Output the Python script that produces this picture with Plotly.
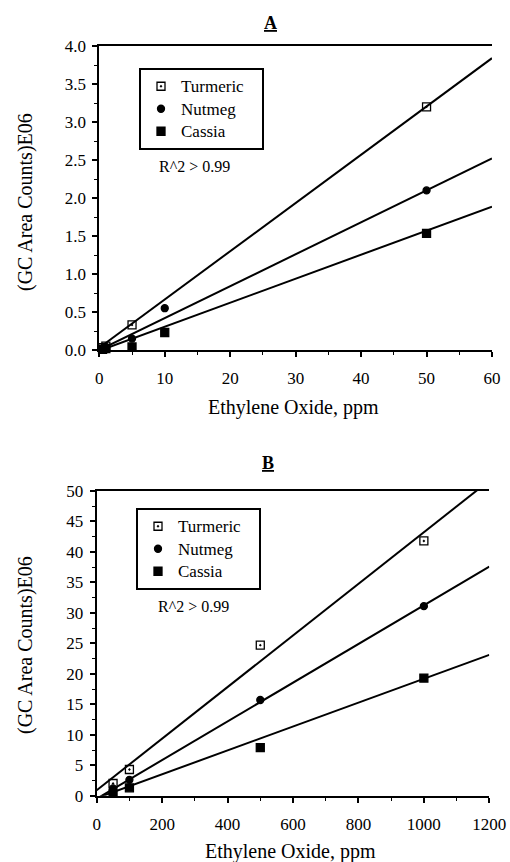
import plotly.graph_objects as go

W, H = 510, 862
FONT = "Liberation Serif, Times New Roman, Tinos, serif"

series = ["Turmeric", "Nutmeg", "Cassia"]
symbols = ["square-open-dot", "circle", "square"]
sizes = [8, 7, 8]

# Panel A data (ppm, (GC area counts)E06)
a_x = {
    "Turmeric": [0.5, 1, 5, 50],
    "Nutmeg": [0.5, 1, 5, 10, 50],
    "Cassia": [0.5, 1, 5, 10, 50],
}
a_y = {
    "Turmeric": [0.03, 0.05, 0.33, 3.20],
    "Nutmeg": [0.02, 0.04, 0.15, 0.55, 2.10],
    "Cassia": [0.01, 0.02, 0.04, 0.23, 1.535],
}
# fitted lines, read at x = 0 and x = 60
a_fit_x = [0, 60]
a_fit_y = {
    "Turmeric": [0.03, 3.84],
    "Nutmeg": [0.0, 2.52],
    "Cassia": [-0.01, 1.886],
}

# Panel B data
b_x = {
    "Turmeric": [50, 100, 500, 1000],
    "Nutmeg": [50, 100, 500, 1000],
    "Cassia": [50, 100, 500, 1000],
}
b_y = {
    "Turmeric": [2.0, 4.3, 24.7, 41.8],
    "Nutmeg": [1.2, 2.6, 15.7, 31.1],
    "Cassia": [0.4, 1.3, 7.9, 19.3],
}
b_fit_x = [0, 1200]
b_fit_y = {
    "Turmeric": [0.9, 51.7],
    "Nutmeg": [-0.5, 37.6],
    "Cassia": [-0.4, 23.1],
}


def legend_label(s):
    return "<span style='font-size:17px'>" + s + "\u00a0\u00a0\u00a0</span>"


fig = go.Figure()

for s, sym, sz in zip(series, symbols, sizes):
    fig.add_trace(go.Scatter(x=a_fit_x, y=a_fit_y[s], mode="lines",
                             line=dict(color="black", width=2),
                             showlegend=False, xaxis="x", yaxis="y"))
    fig.add_trace(go.Scatter(x=a_x[s], y=a_y[s], mode="markers",
                             name=legend_label(s),
                             marker=dict(symbol=sym, size=sz, color="black",
                                         line=dict(color="black", width=1.3)),
                             cliponaxis=False, legend="legend",
                             xaxis="x", yaxis="y"))
for s, sym, sz in zip(series, symbols, sizes):
    fig.add_trace(go.Scatter(x=b_fit_x, y=b_fit_y[s], mode="lines",
                             line=dict(color="black", width=2),
                             showlegend=False, xaxis="x2", yaxis="y2"))
    fig.add_trace(go.Scatter(x=b_x[s], y=b_y[s], mode="markers",
                             name=legend_label(s),
                             marker=dict(symbol=sym, size=sz, color="black",
                                         line=dict(color="black", width=1.3)),
                             cliponaxis=False, legend="legend2",
                             xaxis="x2", yaxis="y2"))

tickfont = dict(family=FONT, size=17, color="black")
common = dict(showline=True, linecolor="black", linewidth=2, ticks="outside",
              ticklen=5, tickwidth=1.5, tickcolor="black", showgrid=False,
              zeroline=False, tickfont=tickfont, automargin=False)


def xa(domain, rng, dtick, anchor):
    return dict(domain=domain, range=rng, dtick=dtick, anchor=anchor,
                mirror=True, ticklabelstandoff=7,
                minor=dict(ticks="outside", ticklen=3, tickwidth=1.2,
                           tickcolor="black", dtick=dtick / 2, showgrid=False),
                **common)


def ya(domain, rng, dtick, anchor, fmt):
    return dict(domain=domain, range=rng, dtick=dtick, anchor=anchor,
                tickformat=fmt, ticklabelstandoff=3,
                minor=dict(ticks="outside", ticklen=3, tickwidth=1.2,
                           tickcolor="black", dtick=dtick / 2, showgrid=False),
                **common)


legfont = dict(family=FONT, size=15, color="black")
fig.update_layout(
    template="none",
    width=W, height=H, autosize=False,
    margin=dict(l=0, r=0, t=0, b=0, pad=0, autoexpand=False),
    paper_bgcolor="white", plot_bgcolor="white",
    font=dict(family=FONT, color="black"),
    xaxis=xa([99.3 / W, 492 / W], [0, 60], 10, "y"),
    yaxis=ya([1 - 350 / H, 1 - 46 / H], [0, 4], 0.5, "x", ".1f"),
    xaxis2=xa([96.7 / W, 489.3 / W], [0, 1200], 200, "y2"),
    yaxis2=ya([1 - 795.7 / H, 1 - 491 / H], [0, 50], 5, "x2", "d"),
    legend=dict(x=139 / W, y=1 - 68 / H, xanchor="left", yanchor="top",
                bordercolor="black", borderwidth=2, bgcolor="white",
                font=legfont, tracegroupgap=0, itemwidth=30),
    legend2=dict(x=136 / W, y=1 - 508 / H, xanchor="left", yanchor="top",
                 bordercolor="black", borderwidth=2, bgcolor="white",
                 font=legfont, tracegroupgap=0, itemwidth=30),
    showlegend=True,
)

ann = []


def add_text(text, xc, yc, size, angle=0):
    ann.append(dict(text=text, x=xc / W, y=1 - yc / H, xref="paper",
                    yref="paper", xanchor="center", yanchor="middle",
                    showarrow=False, textangle=angle,
                    font=dict(family=FONT, size=size, color="black")))


add_text("<b><u>A</u></b>", 270, 23, 18)
add_text("<b><u>B</u></b>", 268, 463, 18)
for yc in [202, 645]:
    add_text("(GC Area Counts)E06", 25, yc, 20, -90)
for xc, yc in [(293, 407), (290, 851)]:
    add_text("Ethylene Oxide, ppm", xc, yc, 20)
for xc, yc in [(194, 167), (193, 606)]:
    add_text("R^2 > 0.99", xc, yc, 16)
fig.update_layout(annotations=ann)

fig.write_html(
    "out.html",
    config=dict(displayModeBar=False, responsive=False),
    post_script="document.body.style.margin='0';"
                "document.body.style.padding='0';"
                "document.body.style.overflow='hidden';",
)
